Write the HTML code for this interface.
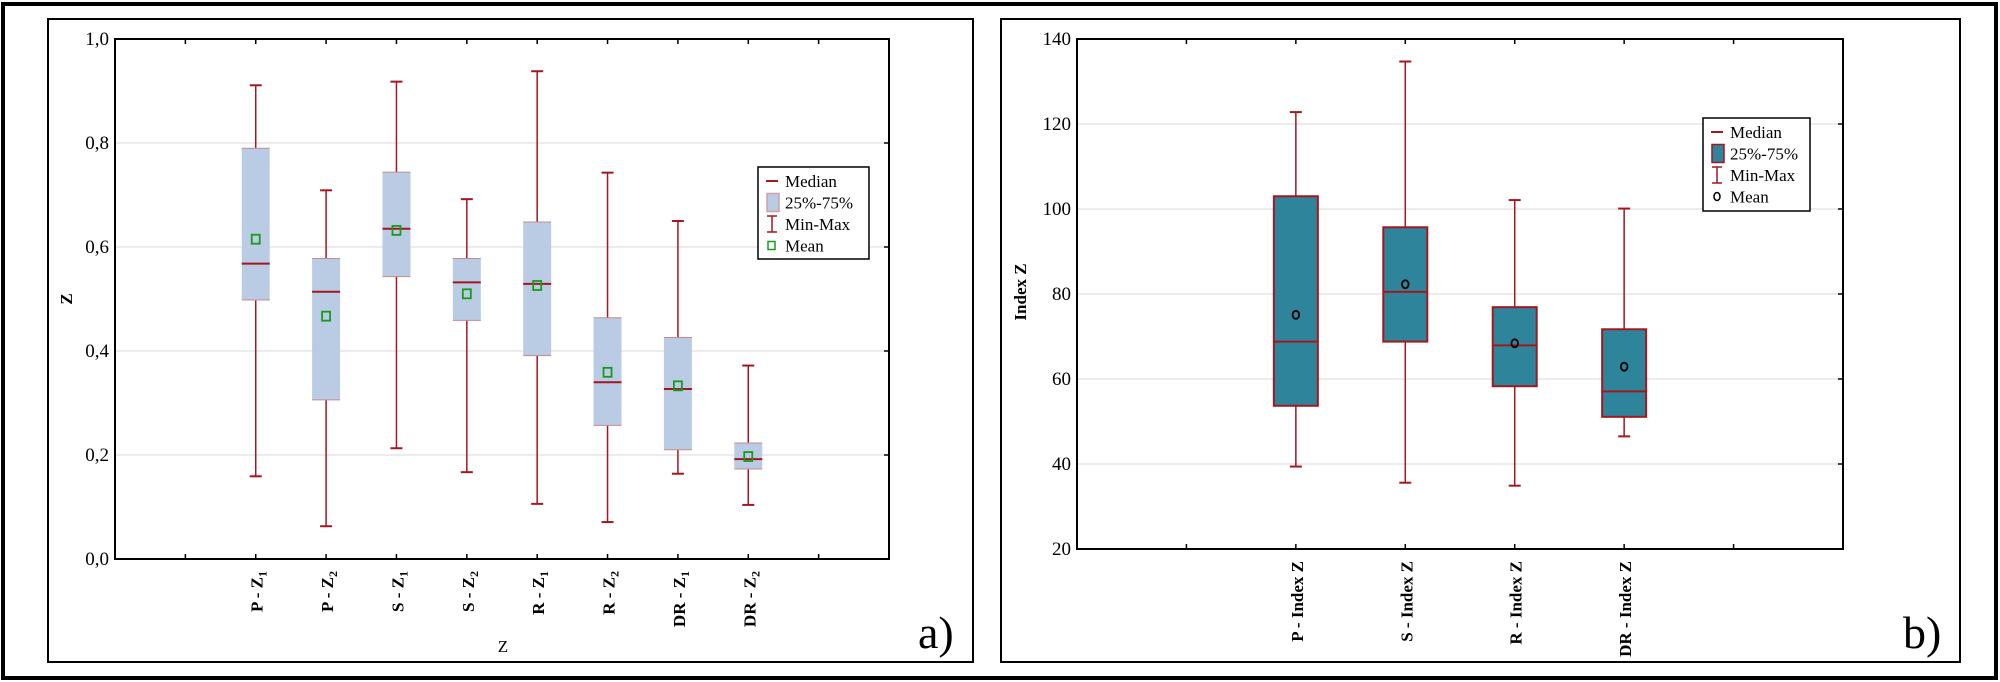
<!DOCTYPE html>
<html><head><meta charset="utf-8"><style>
html,body{margin:0;padding:0;background:#fff}
svg{display:block;font-family:"Liberation Serif",serif}
</style></head><body>
<svg id="root" width="2000" height="682" viewBox="0 0 2000 682">
<rect x="3" y="4" width="1993" height="674" fill="none" stroke="#000" stroke-width="4"/>
<rect x="48" y="19" width="925" height="643" fill="none" stroke="#000" stroke-width="2"/>
<rect x="1001" y="19" width="959" height="643" fill="none" stroke="#000" stroke-width="2"/>
<g id="ga"></g>
<g id="gb"></g>
<text x="918" y="648" font-size="46">a)</text>
<text x="1903" y="648" font-size="46">b)</text>
</svg>
<script>
const catsA = ["P - Z|1","P - Z|2","S - Z|1","S - Z|2","R - Z|1","R - Z|2","DR - Z|1","DR - Z|2"];
const minA = [0.159,0.063,0.213,0.167,0.106,0.071,0.164,0.104];
const q1A = [0.498,0.306,0.543,0.459,0.391,0.257,0.210,0.173];
const medA = [0.568,0.514,0.635,0.532,0.529,0.340,0.327,0.192];
const q3A = [0.790,0.578,0.744,0.578,0.648,0.464,0.426,0.223];
const maxA = [0.911,0.709,0.918,0.692,0.938,0.743,0.650,0.372];
const meanA = [0.615,0.467,0.632,0.510,0.526,0.359,0.333,0.197];
const ticksA = ["0,0","0,2","0,4","0,6","0,8","1,0"];
const tickValsA = [0,0.2,0.4,0.6,0.8,1.0];

const catsB = ["P - Index Z","S - Index Z","R - Index Z","DR - Index Z"];
const minB = [39.4,35.6,34.9,46.5];
const q1B = [53.7,68.8,58.3,51.1];
const medB = [68.8,80.5,67.9,57.1];
const q3B = [103.0,95.7,76.9,71.7];
const maxB = [122.8,134.7,102.1,100.1];
const meanB = [75.1,82.3,68.4,62.9];
const ticksB = ["20","40","60","80","100","120","140"];
const tickValsB = [20,40,60,80,100,120,140];

const NS="http://www.w3.org/2000/svg";
const RED="#a3171f";
function mk(parent,tag,attrs,txt){const e=document.createElementNS(NS,tag);for(const k in attrs)e.setAttribute(k,attrs[k]);if(txt!==undefined)e.textContent=txt;parent.appendChild(e);return e;}

function chart(g,o){
  const {x0,x1,y0,y1,vmin,vmax,slots,first,cats,mn,q1,md,q3,mx,me,ticks,tv,bw,boxFill,boxStroke,meanType,labelSub,ytitle,xtitle}=o;
  const X=i=>x0+(x1-x0)/slots*(first+i);
  const Y=v=>y1-(v-vmin)/(vmax-vmin)*(y1-y0);
  // gridlines
  tv.forEach((v,i)=>{
    if(i>0&&i<tv.length-1){const l=mk(g,'line',{x1:x0,x2:x1,y1:Y(v),y2:Y(v),stroke:'#d8d8d8','stroke-width':1});
      }
    const t=mk(g,'text',{x:x0-6,y:Y(v)+6,'font-size':19,'text-anchor':'end'},ticks[i]);
    
    mk(g,'line',{x1:x1-5,x2:x1,y1:Y(v),y2:Y(v),stroke:'#000','stroke-width':1.5});
  });
  for(let k=1;k<slots;k++){mk(g,'line',{x1:x0+(x1-x0)/slots*k,x2:x0+(x1-x0)/slots*k,y1:y1,y2:y1-5,stroke:'#000','stroke-width':1.5});
    mk(g,'line',{x1:x0+(x1-x0)/slots*k,x2:x0+(x1-x0)/slots*k,y1:y0,y2:y0+5,stroke:'#000','stroke-width':1.5});}
  const ax=mk(g,'rect',{x:x0,y:y0,width:x1-x0,height:y1-y0,fill:'none',stroke:'#000','stroke-width':2});
  
  cats.forEach((c,i)=>{
    const cx=X(i);
    const w=mk(g,'line',{x1:cx,x2:cx,y1:Y(mx[i]),y2:Y(mn[i]),stroke:RED,'stroke-width':1.5});
    
    mk(g,'line',{x1:cx-6,x2:cx+6,y1:Y(mx[i]),y2:Y(mx[i]),stroke:RED,'stroke-width':2});
    mk(g,'line',{x1:cx-6,x2:cx+6,y1:Y(mn[i]),y2:Y(mn[i]),stroke:RED,'stroke-width':2});
    const b=mk(g,'rect',{x:cx-bw/2,y:Y(q3[i]),width:bw,height:Y(q1[i])-Y(q3[i]),fill:boxFill,stroke:boxStroke,'stroke-width':boxStroke==='none'?0:2});
    
    if(boxStroke==='none'){mk(g,'line',{x1:cx-bw/2,x2:cx+bw/2,y1:Y(q3[i]),y2:Y(q3[i]),stroke:'#c98a90','stroke-width':1});
      mk(g,'line',{x1:cx-bw/2,x2:cx+bw/2,y1:Y(q1[i]),y2:Y(q1[i]),stroke:'#c98a90','stroke-width':1});}
    const m=mk(g,'line',{x1:cx-bw/2,x2:cx+bw/2,y1:Y(md[i]),y2:Y(md[i]),stroke:RED,'stroke-width':2});
    
    let p;
    if(meanType==='sq') p=mk(g,'rect',{x:cx-4,y:Y(me[i])-4.5,width:8,height:9,fill:'none',stroke:'#1a9a1a','stroke-width':1.8});
    else p=mk(g,'ellipse',{cx:cx,cy:Y(me[i]),rx:3.3,ry:4,fill:'none',stroke:'#000','stroke-width':1.8});
    
    const t=mk(g,'text',{transform:`translate(${cx+7},${y1+12}) rotate(-90)`,'font-size':17,'font-weight':'bold','text-anchor':'end'});
    
    if(labelSub){const [a,s]=c.split('|');t.textContent=a;mk(t,'tspan',{'font-size':12,dy:4},s);}
    else t.textContent=c;
  });
  const yt=mk(g,'text',{transform:`translate(${ytitle.x},${ytitle.y}) rotate(-90)`,'font-size':17,'font-weight':'bold','text-anchor':'middle'},ytitle.t);
  
  if(xtitle){const xt=mk(g,'text',{x:xtitle.x,y:xtitle.y,'font-size':17,'text-anchor':'middle'},xtitle.t);
    }
  return {X,Y};
}
function legend(g,x,y,w,h,fill,stroke,meanType){
  const lg=mk(g,'g',{});
  
  mk(lg,'rect',{x:x,y:y,width:w,height:h,fill:'#fff',stroke:'#000','stroke-width':1.5});
  const items=["Median","25%-75%","Min-Max","Mean"];
  items.forEach((s,i)=>{
    const cy=y+14+i*21.5;
    const e=mk(lg,'g',{});
    if(i===0)mk(e,'line',{x1:x+8,x2:x+20,y1:cy,y2:cy,stroke:RED,'stroke-width':2});
    if(i===1)mk(e,'rect',{x:x+9,y:cy-9,width:12,height:18,fill:fill,stroke:stroke,'stroke-width':1.5});
    if(i===2){mk(e,'line',{x1:x+14,x2:x+14,y1:cy-8,y2:cy+8,stroke:RED,'stroke-width':1.5});mk(e,'line',{x1:x+9,x2:x+19,y1:cy-8,y2:cy-8,stroke:RED,'stroke-width':1.5});mk(e,'line',{x1:x+9,x2:x+19,y1:cy+8,y2:cy+8,stroke:RED,'stroke-width':1.5});}
    if(i===3){if(meanType==='sq')mk(e,'rect',{x:x+10,y:cy-4,width:7,height:8,fill:'none',stroke:'#1a9a1a','stroke-width':1.5});else mk(e,'ellipse',{cx:x+14,cy:cy,rx:3,ry:4,fill:'none',stroke:'#000','stroke-width':1.5});}
    mk(e,'text',{x:x+27,y:cy+6,'font-size':17},s);
  });
}
const ga=document.getElementById('ga'),gb=document.getElementById('gb');
chart(ga,{x0:115,x1:889,y0:39,y1:559,vmin:0,vmax:1,slots:11,first:2,cats:catsA,mn:minA,q1:q1A,md:medA,q3:q3A,mx:maxA,me:meanA,ticks:ticksA,tv:tickValsA,bw:28,boxFill:'#b9cce4',boxStroke:'none',meanType:'sq',labelSub:true,ytitle:{t:'Z',x:72,y:299},xtitle:{t:'Z',x:503,y:652}});
legend(ga,758,167,111,92,'#b9cce4','#d0a0a8','sq');
chart(gb,{x0:1077,x1:1843,y0:39,y1:549,vmin:20,vmax:140,slots:7,first:2,cats:catsB,mn:minB,q1:q1B,md:medB,q3:q3B,mx:maxB,me:meanB,ticks:ticksB,tv:tickValsB,bw:44,boxFill:'#2e859b',boxStroke:RED,meanType:'circ',labelSub:false,ytitle:{t:'Index Z',x:1026,y:292},xtitle:null});
legend(gb,1703,118,107,93,'#2e859b',RED,'circ');
</script>
</body></html>
